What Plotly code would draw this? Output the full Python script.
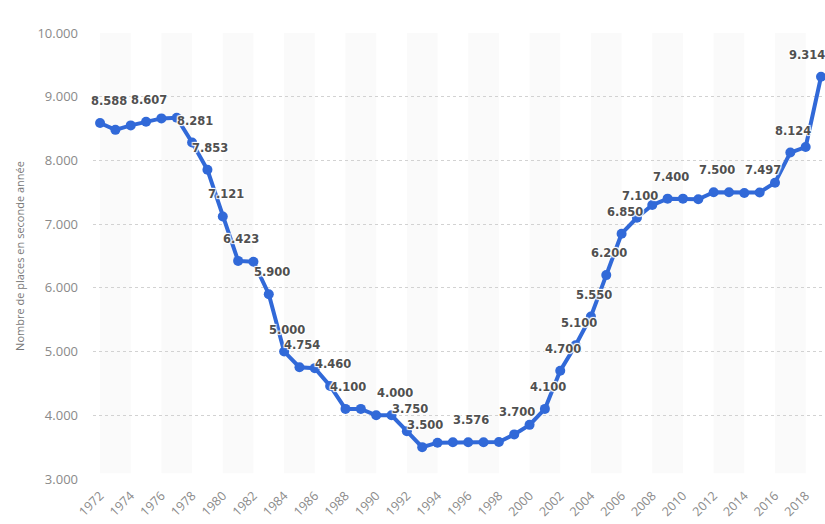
import plotly.graph_objects as go

# Places offered in second year, by year
years = list(range(1972, 2020))
places = [
    8588, 8480, 8550, 8607, 8660, 8670, 8281, 7853, 7121, 6423,
    6410, 5900, 5000, 4754, 4740, 4460, 4100, 4100, 4000, 4000,
    3750, 3500, 3570, 3576, 3576, 3576, 3580, 3700, 3850, 4100,
    4700, 5100, 5550, 6200, 6850, 7100, 7300, 7400, 7400, 7390,
    7500, 7500, 7490, 7497, 7650, 8124, 8210, 9314,
]

# Years whose value is printed above the point
labelled_years = [
    1972, 1975, 1978, 1979, 1980, 1981, 1983, 1984, 1985, 1987,
    1988, 1991, 1992, 1993, 1996, 1999, 2001, 2002, 2003, 2004,
    2005, 2006, 2007, 2009, 2012, 2015, 2017, 2019,
]

y_ticks = [3000, 4000, 5000, 6000, 7000, 8000, 9000, 10000]
y_tick_text = ["3.000", "4.000", "5.000", "6.000", "7.000", "8.000", "9.000", "10.000"]
x_ticks = list(range(1972, 2019, 2))
y_title = "Nombre de places en seconde année"

LINE_BLUE = "#3169d8"
LABEL_GREY = "#505050"
AXIS_GREY = "#8a8a8a"
FONT = "Open Sans"
HALO = "1px 1px 1px #fff, -1px -1px 1px #fff, 1px -1px 1px #fff, -1px 1px 1px #fff"


def fmt(v):
    return f"{v:,}".replace(",", ".")


fig = go.Figure()

fig.add_trace(go.Scatter(
    x=years,
    y=places,
    mode="lines+markers",
    line=dict(color=LINE_BLUE, width=4),
    marker=dict(color=LINE_BLUE, size=10),
    cliponaxis=False,
    hoverinfo="x+y",
))

# Alternating light bands behind the series
shapes = []
for start in range(1972, 2018, 4):
    shapes.append(dict(
        type="rect", xref="x", yref="y",
        x0=start, x1=start + 2, y0=3090, y1=10000,
        fillcolor="#fafafa", line=dict(width=0), layer="below",
    ))

# Value labels above selected points
lookup = dict(zip(years, places))
annotations = []
for yr in labelled_years:
    shift_x = 3
    if yr == years[0]:
        shift_x = 9
    elif yr == years[-1]:
        shift_x = -14
    annotations.append(dict(
        x=yr, y=lookup[yr], xref="x", yref="y",
        text=fmt(lookup[yr]), showarrow=False,
        xshift=shift_x, yshift=22,
        font=dict(family="DejaVu Sans", size=11.5, color=LABEL_GREY,
                  weight="bold", shadow=HALO),
    ))

fig.update_layout(
    width=825,
    height=524,
    margin=dict(l=93, r=0, t=33, b=45),
    paper_bgcolor="white",
    plot_bgcolor="white",
    showlegend=False,
    font=dict(family=FONT, size=13, color=AXIS_GREY),
    shapes=shapes,
    annotations=annotations,
    xaxis=dict(
        range=[1971.54, 2019.26],
        tickvals=x_ticks,
        ticktext=[str(v) for v in x_ticks],
        tickangle=-45,
        showgrid=False,
        zeroline=False,
        showline=False,
        ticks="",
        ticklabelstandoff=6,
        automargin=False,
        tickfont=dict(family=FONT, size=12.5, color=AXIS_GREY),
    ),
    yaxis=dict(
        range=[3000, 10000],
        tickvals=y_ticks,
        ticktext=y_tick_text,
        showgrid=True,
        gridcolor="#d2d2d2",
        gridwidth=1,
        griddash="dot",
        zeroline=False,
        showline=False,
        ticks="",
        ticklabelstandoff=14,
        automargin=False,
        tickfont=dict(family=FONT, size=13, color=AXIS_GREY),
        title=dict(text=y_title, font=dict(family=FONT, size=11, color="#777777"), standoff=10),
    ),
)

fig.write_html("out.html")
